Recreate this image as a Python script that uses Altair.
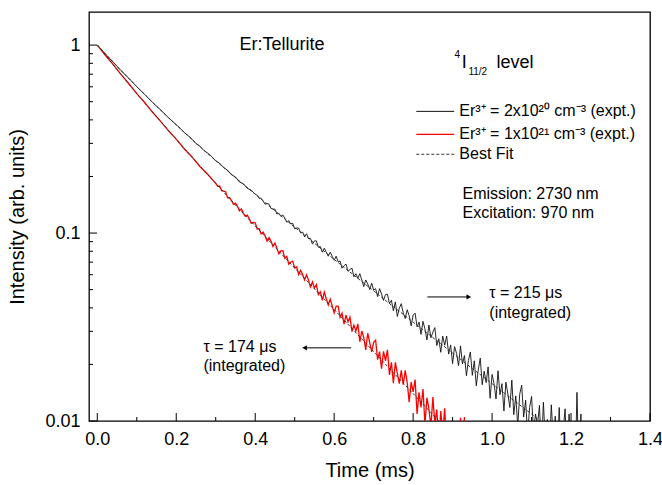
import altair as alt
import pandas as pd

FONT = "Liberation Sans"
W, H = 561, 409

# ---------------- axis ticks ----------------
x_major = [0.0, 0.2, 0.4, 0.6, 0.8, 1.0, 1.2, 1.4]
x_minor = [0.1, 0.3, 0.5, 0.7, 0.9, 1.1, 1.3]
y_major = [0.01, 0.1, 1.0]
y_minor = [0.02, 0.03, 0.04, 0.05, 0.06, 0.07, 0.08, 0.09,
           0.2, 0.3, 0.4, 0.5, 0.6, 0.7, 0.8, 0.9]

# ---------------- Er 2e20 (black, expt.) ----------------
black_a = [1.0, 0.899, 0.814, 0.732, 0.666, 0.600, 0.547, 0.495, 0.453, 0.411]          # t=0.00..0.18 step 0.02
black_b = [0.377, 0.361, 0.343, 0.330, 0.316, 0.299, 0.290, 0.275, 0.266, 0.255,
           0.242, 0.235, 0.223, 0.216, 0.204, 0.199, 0.187, 0.183, 0.173, 0.169]       # t=0.20..0.39 step 0.01
black_c = [0.161, 0.159, 0.153, 0.153, 0.148, 0.1424, 0.1438, 0.1424, 0.1354, 0.1341,
           0.1340, 0.1262, 0.1275, 0.1225, 0.1248, 0.1200, 0.1141, 0.1164, 0.1118, 0.1129,
           0.1053, 0.1064, 0.1064, 0.1003, 0.1013, 0.0954, 0.0992, 0.0936, 0.0936, 0.0873,
           0.0908, 0.0908, 0.0840, 0.0848, 0.0791, 0.0831, 0.0792, 0.0753, 0.0791, 0.0753,
           0.0717, 0.0753, 0.0704, 0.0710, 0.0650, 0.0670, 0.0684, 0.0626, 0.0639, 0.0651,
           0.0585, 0.0608, 0.0574, 0.0608, 0.0563, 0.0519, 0.0563, 0.0537, 0.0501, 0.0541,
           0.0497, 0.0506, 0.0459, 0.0506, 0.0474, 0.0438, 0.0470, 0.0473, 0.0422, 0.0439,
           0.0386, 0.0430, 0.0360, 0.0398, 0.0421, 0.0376, 0.0351, 0.0391, 0.0363, 0.0321,
           0.0366, 0.0375, 0.0317, 0.0336, 0.0289, 0.0339, 0.0309, 0.0270, 0.0324, 0.0277,
           0.0297, 0.0314, 0.0252, 0.0274, 0.0232, 0.0283, 0.0253, 0.0283, 0.0227, 0.0254,
           0.0202, 0.0249, 0.0229, 0.0197, 0.0251, 0.0201, 0.0223, 0.0174, 0.0210, 0.0233,
           0.0175, 0.0209, 0.0154, 0.0187, 0.0216, 0.0156, 0.0184, 0.0160, 0.0194, 0.0132,
           0.0177, 0.0158, 0.0131, 0.0185, 0.0138, 0.0158, 0.0113, 0.0161, 0.0139, 0.0118,
           0.0165, 0.0108, 0.0136, 0.0094, 0.0139, 0.0155, 0.0105, 0.0129, 0.0084, 0.0118,
           0.0135, 0.0088, 0.0109, 0.0095, 0.0121, 0.0069, 0.0126, 0.0077, 0.0102, 0.0069,
           0.0122, 0.0080, 0.0106, 0.0060, 0.0118, 0.0066, 0.0089, 0.0116, 0.0059, 0.0109,
           0.0068, 0.0089, 0.0050, 0.0142, 0.0056, 0.0109, 0.0047]                        # t=0.400.. step 0.005

# ---------------- Er 1e21 (red, expt.) ----------------
red_a = [1.0, 0.886, 0.789, 0.698, 0.623, 0.552, 0.495, 0.439, 0.394, 0.351,
         0.316, 0.281, 0.254, 0.226, 0.205]                                               # t=0.00..0.28 step 0.02
red_b = [0.184, 0.1772, 0.1778, 0.1681, 0.1671, 0.1659, 0.1539, 0.1544, 0.1489, 0.1422,
         0.1441, 0.1391, 0.1314, 0.1346, 0.1273, 0.1228, 0.1245, 0.1190, 0.1125, 0.1140,
         0.1133, 0.1051, 0.1056, 0.0989, 0.1012, 0.0968, 0.0906, 0.0946, 0.0905, 0.0848,
         0.0885, 0.0829, 0.0776, 0.0803, 0.0806, 0.0734, 0.0751, 0.0683, 0.0700, 0.0709,
         0.0652, 0.0661, 0.0601, 0.0634, 0.0601, 0.0563, 0.0599, 0.0562, 0.0516, 0.0549,
         0.0510, 0.0532, 0.0470, 0.0487, 0.0438, 0.0485, 0.0447, 0.0415, 0.0445, 0.0410,
         0.0376, 0.0409, 0.0409, 0.0356, 0.0375, 0.0328, 0.0366, 0.0337, 0.0357, 0.0299,
         0.0324, 0.0301, 0.0328, 0.0264, 0.0301, 0.0278, 0.0239, 0.0293, 0.0262, 0.0233,
         0.0262, 0.0269, 0.0212, 0.0234, 0.0190, 0.0235, 0.0209, 0.0239, 0.0176, 0.0205,
         0.0159, 0.0205, 0.0179, 0.0158, 0.0186, 0.0156, 0.0186, 0.0160, 0.0126, 0.0161,
         0.0143, 0.0166, 0.0109, 0.0142, 0.0118, 0.0148, 0.0096, 0.0133, 0.0116, 0.0093,
         0.0134, 0.0097, 0.0115, 0.0075, 0.0113, 0.0086, 0.0117, 0.0072, 0.0095, 0.0072,
         0.0091, 0.0065, 0.0083, 0.0069, 0.0104, 0.0058, 0.0105]                          # t=0.300.. step 0.005

# ---------------- best fits (step 0.05 ms) ----------------
fit_black = [1.0, 0.771, 0.601, 0.473, 0.376, 0.301, 0.243, 0.197, 0.161, 0.1314,
             0.1074, 0.0882, 0.0724, 0.0597, 0.0492, 0.0406, 0.0336, 0.0278, 0.0230, 0.0190,
             0.0158, 0.0131, 0.0109, 0.0090]
fit_red = [1.0, 0.741, 0.553, 0.416, 0.315, 0.240, 0.184, 0.141, 0.109, 0.0843,
           0.0652, 0.0505, 0.0392, 0.0303, 0.0234, 0.0181, 0.0140, 0.0108, 0.0083]


def grid(start, step, n):
    return [round(start + k * step, 4) for k in range(n)]


df_black = pd.DataFrame({
    "t": grid(0.0, 0.02, len(black_a)) + grid(0.2, 0.01, len(black_b)) + grid(0.4, 0.005, len(black_c)),
    "I": black_a + black_b + black_c})
df_red = pd.DataFrame({
    "t": grid(0.0, 0.02, len(red_a)) + grid(0.3, 0.005, len(red_b)),
    "I": red_a + red_b})
df_fit_black = pd.DataFrame({"t": grid(0.0, 0.05, len(fit_black)), "I": fit_black})
df_fit_red = pd.DataFrame({"t": grid(0.0, 0.05, len(fit_red)), "I": fit_red})

# ---------------- annotations (data coordinates) ----------------
text_big = pd.DataFrame({"t": [0.360, 0.923, 1.011], "I": [1.0, 0.80, 0.80],
                         "label": ["Er:Tellurite", "I", "level"]})
text_small = pd.DataFrame({"t": [0.905, 0.940], "I": [0.885, 0.72], "label": ["4", "11/2"]})
text_mid = pd.DataFrame({
    "t": [0.917, 0.917, 0.917, 0.925, 0.925, 0.993, 0.993, 0.269, 0.269],
    "I": [0.444, 0.335, 0.2625, 0.161, 0.1276, 0.048, 0.0376, 0.0248, 0.0196],
    "label": ["Er³⁺ = 2x10²⁰ cm⁻³ (expt.)", "Er³⁺ = 1x10²¹ cm⁻³ (expt.)", "Best Fit",
              "Emission: 2730 nm", "Excitation: 970 nm",
              "τ = 215 μs", "(integrated)", "τ = 174 μs", "(integrated)"]})
leg_black = pd.DataFrame({"t": [0.808], "t2": [0.904], "I": [0.444]})
leg_red = pd.DataFrame({"t": [0.808], "t2": [0.904], "I": [0.335]})
leg_fit = pd.DataFrame({"t": [0.808], "t2": [0.904], "I": [0.2625]})
arrow_shafts = pd.DataFrame({"t": [0.836, 0.643], "t2": [0.941, 0.525], "I": [0.0457, 0.0245]})
arrow_right = pd.DataFrame({"t": [0.941], "I": [0.0457]})
arrow_left = pd.DataFrame({"t": [0.525], "I": [0.0245]})

df_xmaj = pd.DataFrame({"t": x_major})
df_xmin = pd.DataFrame({"t": x_minor})
df_ymaj = pd.DataFrame({"I": y_major})
df_ymin = pd.DataFrame({"I": y_minor})

xs = alt.Scale(domain=[-0.021, 1.4], nice=False, zero=False)
ys = alt.Scale(type="log", domain=[0.01, 1.5], nice=False)

x_main = alt.Axis(orient="bottom", values=x_major, format=".1f", ticks=False, tickSize=0,
                  domain=False, grid=False, labelFontSize=18, labelPadding=9,
                  labelFlush=False, labelOverlap=False,
                  title="Time (ms)", titleFontSize=20, titlePadding=12)
y_main = alt.Axis(orient="left", values=y_major, format="~g", ticks=False, tickSize=0,
                  domain=False, grid=False, labelFontSize=18, labelPadding=9,
                  labelFlush=False, labelOverlap=False,
                  title="Intensity (arb. units)", titleFontSize=20,
                  titleX=-72, titleBaseline="middle")


def X(field="t", axis=None):
    return alt.X(f"{field}:Q", scale=xs, axis=axis)


def Y(field="I", axis=None):
    return alt.Y(f"{field}:Q", scale=ys, axis=axis)


black = alt.Chart(df_black).mark_line(color="#111111", strokeWidth=0.9, clip=True).encode(
    x=X(axis=x_main), y=Y(axis=y_main))
red = alt.Chart(df_red).mark_line(color="#ff0000", strokeWidth=1.3, clip=True).encode(x=X(), y=Y())
fitb = alt.Chart(df_fit_black).mark_line(color="#333333", strokeWidth=1, strokeDash=[3, 2],
                                         clip=True).encode(x=X(), y=Y())
fitr = alt.Chart(df_fit_red).mark_line(color="#333333", strokeWidth=1, strokeDash=[3, 2],
                                       clip=True).encode(x=X(), y=Y())

# inward axis ticks (Origin style)
xt_maj = alt.Chart(df_xmaj).mark_rule(color="black", strokeWidth=1).encode(
    x=X(), y=alt.value(H), y2=alt.value(H - 8))
xt_min = alt.Chart(df_xmin).mark_rule(color="black", strokeWidth=1).encode(
    x=X(), y=alt.value(H), y2=alt.value(H - 4))
yt_maj = alt.Chart(df_ymaj).mark_rule(color="black", strokeWidth=1).encode(
    y=Y(), x=alt.value(0), x2=alt.value(8))
yt_min = alt.Chart(df_ymin).mark_rule(color="black", strokeWidth=1).encode(
    y=Y(), x=alt.value(0), x2=alt.value(4))

lb = alt.Chart(leg_black).mark_rule(color="#111111", strokeWidth=1).encode(x=X(), x2="t2:Q", y=Y())
lr = alt.Chart(leg_red).mark_rule(color="#ff0000", strokeWidth=1.3).encode(x=X(), x2="t2:Q", y=Y())
lf = alt.Chart(leg_fit).mark_rule(color="#333333", strokeWidth=1, strokeDash=[3, 2]).encode(
    x=X(), x2="t2:Q", y=Y())

tbig = alt.Chart(text_big).mark_text(align="left", baseline="middle", font=FONT, fontSize=18,
                                     color="black").encode(x=X(), y=Y(), text="label:N")
tsmall = alt.Chart(text_small).mark_text(align="left", baseline="middle", font=FONT, fontSize=10,
                                         color="black").encode(x=X(), y=Y(), text="label:N")
tmid = alt.Chart(text_mid).mark_text(align="left", baseline="middle", font=FONT, fontSize=16,
                                     color="black").encode(x=X(), y=Y(), text="label:N")

shafts = alt.Chart(arrow_shafts).mark_rule(color="black", strokeWidth=1).encode(
    x=X(), x2="t2:Q", y=Y())
head_r = alt.Chart(arrow_right).mark_point(shape="triangle-right", filled=True, size=28,
                                           color="black", opacity=1).encode(x=X(), y=Y())
head_l = alt.Chart(arrow_left).mark_point(shape="triangle-left", filled=True, size=28,
                                          color="black", opacity=1).encode(x=X(), y=Y())

chart = alt.layer(black, red, fitb, fitr, xt_maj, xt_min, yt_maj, yt_min, lb, lr, lf,
                  tbig, tsmall, tmid, shafts, head_r, head_l
                  ).resolve_axis(x="independent", y="independent").properties(
    width=W, height=H,
    padding={"left": 89, "top": 12, "right": 12, "bottom": 64},
    autosize=alt.AutoSizeParams(type="none"),
    background="white",
).configure_view(stroke="black", strokeWidth=1.3).configure_axis(
    labelFont=FONT, titleFont=FONT, labelColor="black", titleColor="black",
    titleFontWeight="normal")

chart.save("out.html", embed_options={"renderer": "svg", "actions": False})
